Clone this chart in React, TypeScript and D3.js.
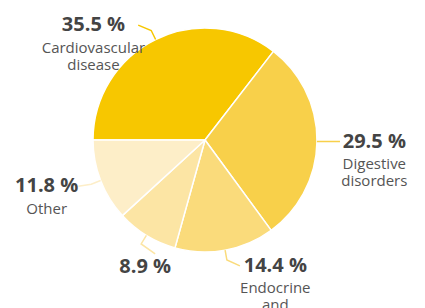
import { useEffect, useRef } from "react";
import * as d3 from "d3";

const categories = [
  ["Cardiovascular", "disease"],
  ["Digestive", "disorders"],
  ["Endocrine", "and"],
  [],
  ["Other"],
];
const shares = [35.5, 29.5, 14.4, 8.9, 11.8];
const colors = ["#f7c700", "#f8d04a", "#fadb7b", "#fce5a4", "#fdeec8"];

const W = 425;
const H = 308;

export default function App() {
  const svgRef = useRef<SVGSVGElement | null>(null);

  useEffect(() => {
    if (!svgRef.current) return;
    const svg = d3.select(svgRef.current);
    svg.selectAll("*").remove();

    const cx = 205;
    const cy = 140;
    const r = 112;

    const pie = d3
      .pie<number>()
      .sort(null)
      .startAngle(-Math.PI / 2)
      .endAngle((3 * Math.PI) / 2)(shares);

    const arc = d3.arc<d3.PieArcDatum<number>>().innerRadius(0).outerRadius(r);

    const g = svg.append("g").attr("transform", `translate(${cx},${cy})`);

    g.selectAll("path.slice")
      .data(pie)
      .join("path")
      .attr("class", "slice")
      .attr("d", arc)
      .attr("fill", (_, i) => colors[i])
      .attr("stroke", "#fff")
      .attr("stroke-width", 1.5)
      .attr("stroke-linejoin", "round");

    const polar = (a: number, rad: number) => [rad * Math.sin(a), -rad * Math.cos(a)];

    pie.forEach((d, i) => {
      const mid = (d.startAngle + d.endAngle) / 2;
      const p0 = polar(mid, r);
      const p1 = polar(mid, r + 10);
      const right = Math.sin(mid) > 0;
      const side = right ? 1 : -1;
      const bottomLeft = !right && Math.cos(mid) < -0.8;
      const end = bottomLeft
        ? [p1[0] + 14, p1[1] + 10]
        : [p1[0] + side * 13, p1[1] - 6 * Math.cos(mid)];

      const label = g.append("g");
      const pct = label
        .append("text")
        .attr("font-family", "'Open Sans', sans-serif")
        .attr("font-weight", 700)
        .attr("font-size", 20)
        .attr("fill", "#444")
        .attr("text-anchor", "middle")
        .text(`${shares[i]} %`);
      const lines = categories[i].map((t) =>
        label
          .append("text")
          .attr("font-family", "'Open Sans', sans-serif")
          .attr("font-size", 15)
          .attr("fill", "#555")
          .attr("text-anchor", "middle")
          .text(t)
      );
      const pw = pct.node()!.getComputedTextLength();
      const maxW = d3.max([pw, ...lines.map((l) => l.node()!.getComputedTextLength())]) ?? 0;

      let lx: number;
      let ly: number;
      if (bottomLeft) {
        lx = end[0] - 10;
        ly = end[1] + 19;
      } else if (right) {
        lx = end[0] + 2 + pw / 2 + (maxW - pw) / 4;
        ly = end[1] + 6;
      } else {
        lx = end[0] - maxW / 2 + (lines.length > 1 ? 7 : 0);
        ly = end[1] + 6;
      }
      pct.attr("x", lx).attr("y", ly);
      lines.forEach((l, k) => l.attr("x", lx).attr("y", ly + 21.5 + k * 17));

      g.append("polyline")
        .attr("points", [p0, p1, end].map((p) => p.join(",")).join(" "))
        .attr("fill", "none")
        .attr("stroke", colors[i])
        .attr("stroke-width", 1.5);
    });
  }, []);

  return (
    <svg
      ref={svgRef}
      width={W}
      height={H}
      style={{ position: "absolute", left: 0, top: 0, background: "#fff" }}
    />
  );
}
